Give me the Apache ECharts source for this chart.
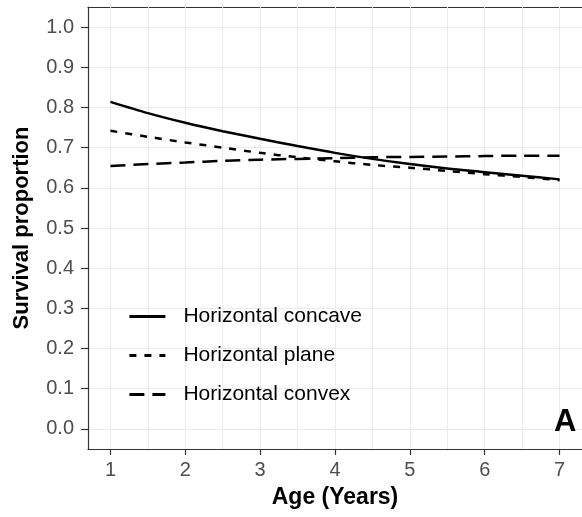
<!DOCTYPE html>
<html>
<head>
<meta charset="utf-8">
<script src="https://cdn.jsdelivr.net/npm/echarts@6/dist/echarts.min.js"></script>
<style>
  html, body { margin: 0; padding: 0; background: #fff; }
  #container { width: 582px; height: 517px; }
</style>
</head>
<body>
<div id="container"></div>
<script>
var ages = [1, 1.5, 2, 2.5, 3, 3.5, 4, 4.5, 5, 5.5, 6, 6.5, 7];
var concave = [0.814, 0.786, 0.762, 0.741, 0.722, 0.704, 0.687, 0.672, 0.659, 0.648, 0.639, 0.630, 0.621];
var plane = [0.742, 0.727, 0.713, 0.700, 0.687, 0.676, 0.666, 0.657, 0.650, 0.642, 0.634, 0.627, 0.619];
var convex = [0.654, 0.659, 0.663, 0.667, 0.670, 0.672, 0.674, 0.676, 0.677, 0.678, 0.679, 0.680, 0.680];
var seriesNames = ['Horizontal concave', 'Horizontal plane', 'Horizontal convex'];
var xTicks = [1, 2, 3, 4, 5, 6, 7];
var xGrid = [1, 1.5, 2, 2.5, 3, 3.5, 4, 4.5, 5, 5.5, 6, 6.5, 7];
var yTicks = [0, 0.1, 0.2, 0.3, 0.4, 0.5, 0.6, 0.7, 0.8, 0.9, 1.0];

var font = 'Liberation Sans, Arial, sans-serif';

function pairs(vals) {
    return ages.map(function (a, i) { return [a, vals[i]]; });
}

var dom = document.getElementById('container');
var myChart = echarts.init(dom);
var option = {
    animation: false,
    textStyle: { fontFamily: font },
    title: {
        text: 'A',
        left: 549,
        top: 402,
        padding: 5,
        textStyle: { fontSize: 31, fontWeight: 'bold', color: '#000', fontFamily: font }
    },
    grid: { left: 88, top: 7, right: -4, bottom: 68 },
    legend: {
        data: seriesNames,
        orient: 'vertical',
        left: 128,
        top: 306,
        padding: 0,
        itemWidth: 36,
        itemHeight: 21,
        itemGap: 18,
        itemStyle: { opacity: 0, borderWidth: 0 },
        lineStyle: { width: 2.8 },
        textStyle: { fontSize: 21, lineHeight: 21, color: '#000', padding: [0, 0, 0, 13], fontFamily: font }
    },
    xAxis: [{
        type: 'value',
        min: 0.7,
        max: 7.3,
        name: 'Age (Years)',
        nameLocation: 'middle',
        nameGap: 37,
        nameTextStyle: { fontSize: 23, fontWeight: 'bold', color: '#000', fontFamily: font },
        axisLine: { show: true, onZero: false, lineStyle: { color: '#333', width: 1.2 } },
        axisTick: { show: true, length: 6, customValues: xTicks, lineStyle: { color: '#333', width: 1.2 } },
        axisLabel: { customValues: xTicks, fontSize: 20, color: '#4D4D4D', margin: 11, fontFamily: font },
        splitLine: { show: false }
    }, {
        type: 'value',
        position: 'top',
        min: 0.7,
        max: 7.3,
        axisLine: { show: true, onZero: false, lineStyle: { color: '#333', width: 1.2 } },
        axisTick: { show: false },
        axisLabel: { show: false },
        splitLine: { show: false }
    }],
    yAxis: {
        type: 'value',
        min: -0.05,
        max: 1.05,
        interval: 0.05,
        name: 'Survival proportion',
        nameLocation: 'middle',
        nameGap: 55,
        nameTextStyle: { fontSize: 22, fontWeight: 'bold', color: '#000', fontFamily: font },
        axisLine: { show: true, onZero: false, lineStyle: { color: '#333', width: 1.2 } },
        axisTick: { show: true, length: 7, customValues: yTicks, lineStyle: { color: '#333', width: 1.2 } },
        axisLabel: {
            customValues: yTicks,
            fontSize: 20,
            color: '#4D4D4D',
            margin: 14,
            fontFamily: font,
            formatter: function (v) { return v.toFixed(1); }
        },
        splitLine: { show: true, lineStyle: { color: '#EBEBEB', width: 1 } }
    },
    series: [{
        name: seriesNames[0],
        type: 'line',
        data: pairs(concave),
        smooth: 0.3,
        showSymbol: false,
        symbol: 'none',
        z: 3,
        lineStyle: { color: '#000', width: 2.5, type: 'solid' },
        itemStyle: { color: '#000' },
        markLine: {
            silent: true,
            symbol: 'none',
            z: 1,
            label: { show: false },
            lineStyle: { color: '#EBEBEB', width: 1, type: 'solid' },
            emphasis: { disabled: true },
            data: xGrid.map(function (v) { return { xAxis: v }; })
        }
    }, {
        name: seriesNames[1],
        type: 'line',
        data: pairs(plane),
        smooth: 0.3,
        showSymbol: false,
        symbol: 'none',
        z: 3,
        lineStyle: { color: '#000', width: 2.5, type: [7, 8] },
        itemStyle: { color: '#000' }
    }, {
        name: seriesNames[2],
        type: 'line',
        data: pairs(convex),
        smooth: 0.3,
        showSymbol: false,
        symbol: 'none',
        z: 3,
        lineStyle: { color: '#000', width: 2.5, type: [15, 8] },
        itemStyle: { color: '#000' }
    }]
};
if (option && typeof option === 'object') {
    myChart.setOption(option, true);
}
</script>
</body>
</html>
